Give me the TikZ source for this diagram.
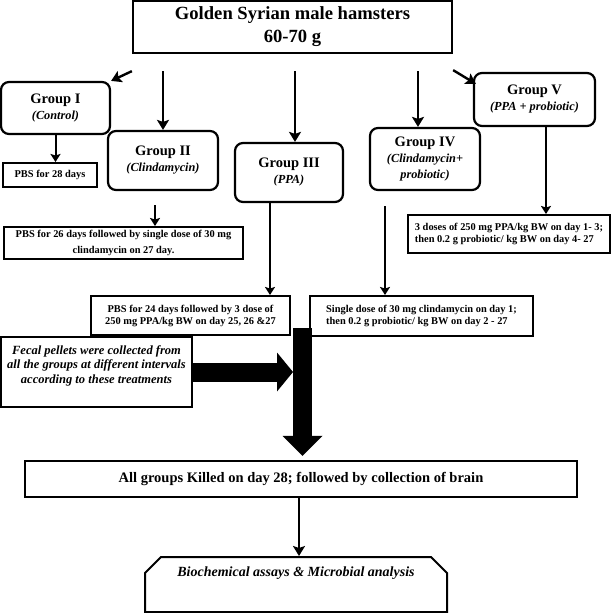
\documentclass[tikz,border=0pt]{standalone}
\usepackage{fontspec}
\setmainfont{Liberation Serif}
\usetikzlibrary{arrows.meta,calc,shapes.misc,positioning}
\newcommand{\grpname}{\fontsize{14.5}{16}\selectfont\bfseries}
\newcommand{\grpsub}{\fontsize{12.3}{15}\selectfont\bfseries\itshape}
\tikzset{
    block/.style = {draw, rectangle, line width=2pt, align=center, inner sep=0pt,
        font=\fontsize{10.4}{12}\selectfont\bfseries},
    group/.style = {draw, rectangle, rounded corners=8pt, line width=2.2pt,
        align=center, inner sep=0pt, font=\grpname},
    arrow/.style = {draw, line width=2.4pt, -{Stealth[length=10pt,width=12pt,inset=2pt]}},
    subarrow/.style = {draw, line width=2pt, -{Stealth[length=8pt,width=10pt,inset=1.5pt]}},
    bigarrow/.style = {draw, line width=19pt}
}

\begin{document}
\begin{tikzpicture}[x=1pt, y=-1pt]
        \useasboundingbox (0,0) rectangle (612,613);
        \node [block, line width=2.3pt, minimum width=319pt, minimum height=52pt,
            font=\fontsize{18.6}{23}\selectfont\bfseries] (top) at (292.5,27) {Golden Syrian male hamsters\\60-70 g};
        \foreach \n/\x/\y/\w/\h/\txt in {I/55.5/108/109/52/{{\grpsub (Control)}},
            II/163/160.5/110/59/{{\grpsub (Clindamycin)}},
            III/289/172.5/108/59/{{\grpsub (PPA)}},
            IV/425/159/110/62/{{\grpsub (Clindamycin+}\\{\grpsub probiotic)}},
            V/534.5/99.5/121/53/{{\grpsub (PPA + probiotic)}}}{
            \node [group, minimum width=\w pt, minimum height=\h pt] (grp\n) at (\x,\y) {Group \n\\\txt};
        }
        \node [block, minimum width=94pt, minimum height=24pt] (pbs28) at (50,175) {PBS for 28 days};
        \node [block, minimum width=239pt, minimum height=32pt,
            font=\fontsize{10.4}{15.5}\selectfont\bfseries] (pbs26) at (123.5,243) {PBS for 26 days followed by single dose of 30 mg\\clindamycin on 27 day.};
        \node [block, minimum width=199pt, minimum height=39pt] (pbs24) at (190.5,315.5) {PBS for 24 days followed by 3 dose of\\250 mg PPA/kg BW on day 25, 26 \&27};
        \node [block, align=left, minimum width=223pt, minimum height=40pt] (single) at (421.5,316) {Single dose of 30 mg clindamycin on day 1;\\then 0.2 g probiotic/ kg BW on day 2 - 27};
        \node [block, align=left, minimum width=202pt, minimum height=38pt] (doses) at (509,234) {3 doses of 250 mg PPA/kg BW on day 1- 3;\\then 0.2 g probiotic/ kg BW on day 4- 27};
        \node [block, minimum width=191pt, minimum height=70pt, text depth=15pt,
            font=\fontsize{12.5}{14.5}\selectfont\bfseries\itshape] (fecal) at (96.5,372) {Fecal pellets were collected from\\all the groups at different intervals\\according to these treatments};
        \node [block, line width=2.5pt, minimum width=552pt, minimum height=36pt,
            font=\fontsize{14.5}{17}\selectfont\bfseries] (killed) at (301,479) {All groups Killed on day 28; followed by collection of brain};
        \node [draw, chamfered rectangle, chamfered rectangle corners={north west,north east},
            chamfered rectangle sep=8pt, line width=2pt, inner sep=0pt, minimum width=302pt, minimum height=51pt,
            text height=11pt, text depth=28pt, font=\fontsize{14}{17}\selectfont\bfseries\itshape] (bio) at (296,584.5) {Biochemical assays \& Microbial analysis};
        % from the hamsters to the groups
        \draw [arrow] ($(top.south west)+(0,17)$) -- (grpI.north east);
        \draw [arrow] ($(grpII.north |- top.south)+(0,17)$) -- (grpII.north);
        \draw [arrow] ($(grpIII.north |- top.south)+(6,17)$) -- ($(grpIII.north)+(6,0)$);
        \draw [arrow] ($(grpIV.north |- top.south)+(-7,17)$) -- ($(grpIV.north)+(-7,0)$);
        \draw [arrow] ($(top.south east)+(0,16)$) -- ($(grpV.north west)+(3,12)$);
        % treatments
        \draw [subarrow] (grpI.south) -- (grpI.south |- pbs28.north);
        \draw [subarrow] ($(grpII.south)+(-8,14)$) -- ($(grpII.south |- pbs26.north)+(-8,0)$);
        \draw [subarrow] ($(grpIII.south)+(-19,0)$) -- ($(grpIII.south |- pbs24.north)+(-19,0)$);
        \draw [subarrow] ($(grpIV.south)+(-40,15)$) -- ($(grpIV.south |- single.north)+(-40,0)$);
        \draw [subarrow] ($(grpV.south)+(11.5,0)$) -- ($(grpV.south |- doses.north)+(11.5,0)$);
        % big arrows
        \coordinate (join) at (302.5,328);
        \draw [bigarrow, -{Triangle[length=16pt,width=39pt,line width=0pt]}, shorten >=9.5pt] (fecal.east) -- (fecal.east -| join);
        \draw [bigarrow, -{Triangle[length=20pt,width=40pt,line width=0pt]}, shorten >=4pt] (join) -- (join |- killed.north);
        \draw [arrow] ($(killed.south)+(-2,0)$) -- ($(killed.south |- bio.north)+(-2,0)$);
\end{tikzpicture}
\end{document}
